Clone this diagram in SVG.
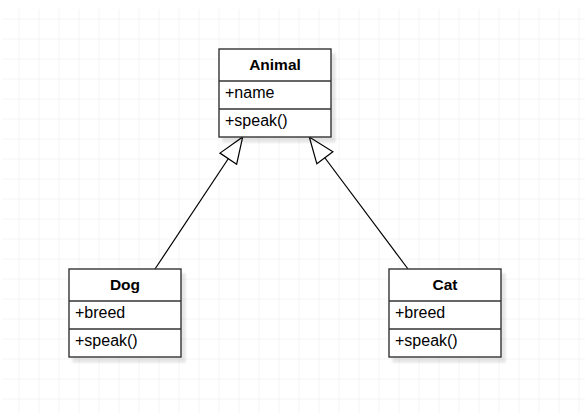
<svg xmlns="http://www.w3.org/2000/svg" width="585" height="414" viewBox="0 0 585 414">
<defs>
<pattern id="grid" x="-0.5" y="-0.5" width="20" height="20" patternUnits="userSpaceOnUse">
<path d="M20,0 V20 M0,20 H20" stroke="#ebebeb" stroke-width="1" fill="none"/>
</pattern>
<filter id="shadow" x="-10%" y="-10%" width="130%" height="130%">
<feGaussianBlur in="SourceAlpha" stdDeviation="1"/>
<feOffset dx="4" dy="5" result="b"/>
<feComponentTransfer><feFuncA type="linear" slope="0.1"/></feComponentTransfer>
<feMerge><feMergeNode/><feMergeNode in="SourceGraphic"/></feMerge>
</filter>
<marker id="inherit" markerUnits="userSpaceOnUse" markerWidth="30" markerHeight="24" refX="26" refY="10" orient="auto" overflow="visible">
<path d="M0,0 L26,10 L0,20 Z" fill="#fff" stroke="#000" stroke-width="1.2" stroke-linejoin="miter"/>
</marker>
</defs>
<style>
.box{fill:#fff;stroke:#333;stroke-width:1.4}
.div{stroke:#333;stroke-width:1.4}
.title{font-family:"Liberation Sans",Arial,sans-serif;font-size:15.5px;font-weight:bold;fill:#000;text-anchor:middle}
.item{font-family:"Liberation Sans",Arial,sans-serif;font-size:16px;fill:#000}
.edge{stroke:#000;stroke-width:1.2;fill:none;marker-end:url(#inherit)}
</style>
<rect x="2" y="9" width="583" height="405" fill="url(#grid)"/>
<g id="connectors">
<line class="edge" x1="155" y1="269" x2="242.7" y2="137"/>
<line class="edge" x1="408" y1="269" x2="309.3" y2="137"/>
</g>
<g id="animal">
<rect class="box" x="219" y="49" width="112" height="88" filter="url(#shadow)"/>
<line class="div" x1="219" y1="81" x2="331" y2="81"/>
<line class="div" x1="219" y1="109" x2="331" y2="109"/>
<text class="title" x="275" y="69.5">Animal</text>
<text class="item" x="225" y="97.5">+name</text>
<text class="item" x="225" y="126">+speak()</text>
</g>
<g id="dog">
<rect class="box" x="69" y="269" width="112" height="88" filter="url(#shadow)"/>
<line class="div" x1="69" y1="301" x2="181" y2="301"/>
<line class="div" x1="69" y1="329" x2="181" y2="329"/>
<text class="title" x="125" y="289.5">Dog</text>
<text class="item" x="75" y="317.5">+breed</text>
<text class="item" x="75" y="346">+speak()</text>
</g>
<g id="cat">
<rect class="box" x="389" y="269" width="112" height="88" filter="url(#shadow)"/>
<line class="div" x1="389" y1="301" x2="501" y2="301"/>
<line class="div" x1="389" y1="329" x2="501" y2="329"/>
<text class="title" x="445" y="289.5">Cat</text>
<text class="item" x="395" y="317.5">+breed</text>
<text class="item" x="395" y="346">+speak()</text>
</g>
</svg>
